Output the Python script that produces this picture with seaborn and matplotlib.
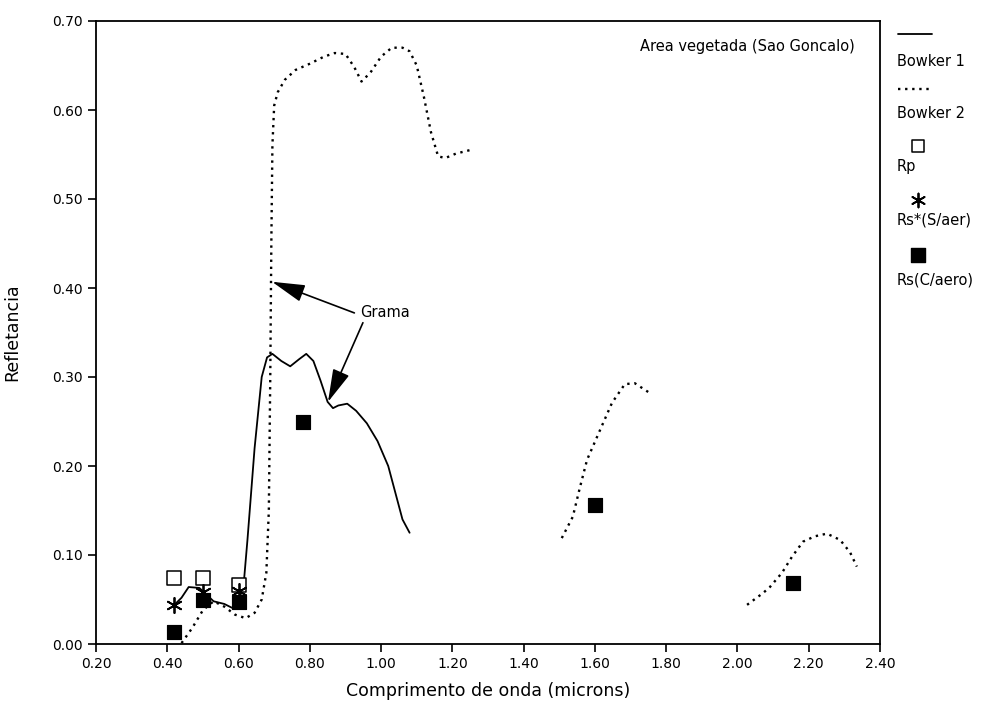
import matplotlib
matplotlib.use("Agg")
import matplotlib.pyplot as plt
import seaborn as sns

# Bowker 1 spectral curve (solid)
bowker1_x = [0.42, 0.44, 0.46, 0.49, 0.53, 0.56, 0.585, 0.60, 0.615, 0.625, 0.645,
             0.665, 0.68, 0.695, 0.72, 0.745, 0.77, 0.79, 0.81, 0.83, 0.85, 0.865,
             0.88, 0.905, 0.93, 0.96, 0.99, 1.02, 1.04, 1.06, 1.08]
bowker1_y = [0.044, 0.052, 0.064, 0.063, 0.048, 0.045, 0.040, 0.046, 0.070, 0.117, 0.220,
             0.300, 0.322, 0.326, 0.318, 0.312, 0.320, 0.326, 0.318, 0.296, 0.272, 0.265,
             0.268, 0.270, 0.262, 0.248, 0.228, 0.200, 0.170, 0.140, 0.125]

# Bowker 2 spectral curve (dotted), three bands
bowker2_vnir_x = [0.44, 0.47, 0.50, 0.53, 0.56, 0.59, 0.62, 0.645, 0.665, 0.678, 0.685,
                  0.689, 0.692, 0.695, 0.70, 0.71, 0.73, 0.76, 0.80, 0.84, 0.87, 0.90,
                  0.925, 0.945, 0.97, 1.00, 1.03, 1.06, 1.08, 1.10, 1.12, 1.14, 1.16,
                  1.18, 1.21, 1.25]
bowker2_vnir_y = [0.001, 0.018, 0.038, 0.048, 0.042, 0.033, 0.029, 0.035, 0.050, 0.080, 0.150,
                  0.300, 0.450, 0.560, 0.605, 0.620, 0.634, 0.645, 0.652, 0.660, 0.664, 0.663,
                  0.648, 0.632, 0.642, 0.660, 0.670, 0.670, 0.666, 0.650, 0.615, 0.575, 0.548,
                  0.546, 0.551, 0.555]
bowker2_swir1_x = [1.507, 1.538, 1.558, 1.578, 1.614, 1.648, 1.684, 1.712, 1.754]
bowker2_swir1_y = [0.119, 0.143, 0.176, 0.207, 0.240, 0.271, 0.292, 0.293, 0.282]
bowker2_swir2_x = [2.027, 2.071, 2.091, 2.125, 2.153, 2.184, 2.217, 2.251, 2.288, 2.316, 2.335]
bowker2_swir2_y = [0.044, 0.057, 0.064, 0.080, 0.098, 0.115, 0.121, 0.124, 0.117, 0.103, 0.087]

# Measured reflectances
rp_x = [0.42, 0.50, 0.60]
rp_y = [0.074, 0.074, 0.066]
rs_noaer_x = [0.42, 0.50, 0.60]
rs_noaer_y = [0.044, 0.058, 0.060]
rs_aer_x = [0.42, 0.50, 0.60, 0.78, 1.60, 2.155]
rs_aer_y = [0.013, 0.050, 0.047, 0.249, 0.156, 0.069]

x_ticks = [0.20, 0.40, 0.60, 0.80, 1.00, 1.20, 1.40, 1.60, 1.80, 2.00, 2.20, 2.40]
y_ticks = [0.00, 0.10, 0.20, 0.30, 0.40, 0.50, 0.60, 0.70]

sns.set_theme(style="ticks")
plt.rcParams["font.family"] = ["DejaVu Sans"]
plt.rcParams["text.color"] = "black"
plt.rcParams["axes.labelcolor"] = "black"
plt.rcParams["xtick.color"] = "black"
plt.rcParams["ytick.color"] = "black"

W, H = 991, 706
fig = plt.figure(figsize=(W / 100, H / 100), dpi=100)
fig.patch.set_facecolor("white")
ax = fig.add_axes([96 / W, 1 - 644 / H, (880 - 96) / W, (644 - 21) / H])

dotted = (0, (1.0, 2.0))

sns.lineplot(x=bowker1_x, y=bowker1_y, ax=ax, color="black", linewidth=1.3,
             estimator=None, sort=False)
for xs, ys in [(bowker2_vnir_x, bowker2_vnir_y),
               (bowker2_swir1_x, bowker2_swir1_y),
               (bowker2_swir2_x, bowker2_swir2_y)]:
    sns.lineplot(x=xs, y=ys, ax=ax, color="black", linewidth=1.7,
                 linestyle=dotted, estimator=None, sort=False)

sns.scatterplot(x=rp_x, y=rp_y, ax=ax, marker="s", s=110, facecolor="white",
                edgecolor="black", linewidth=1.1, zorder=4)
sns.scatterplot(x=rs_noaer_x, y=rs_noaer_y, ax=ax, marker=(6, 2, 0), s=120,
                color="black", linewidth=1.3, zorder=4)
sns.scatterplot(x=rs_aer_x, y=rs_aer_y, ax=ax, marker="s", s=110, color="black",
                edgecolor="black", zorder=5)

ax.set_xlim(0.2, 2.4)
ax.set_ylim(0.0, 0.7)
ax.set_xticks(x_ticks)
ax.set_yticks(y_ticks)
ax.set_xticklabels([f"{t:.2f}" for t in x_ticks])
ax.set_yticklabels([f"{t:.2f}" for t in y_ticks])
ax.tick_params(direction="out", length=6, width=1.2, labelsize=10, colors="black")
for s in ax.spines.values():
    s.set_linewidth(1.3)
    s.set_color("black")

ax.set_xlabel("Comprimento de onda (microns)", fontsize=12.5, labelpad=8)
ax.set_ylabel("Refletancia", fontsize=12.5, labelpad=22)

ax.text(2.33, 0.671, "Area vegetada (Sao Goncalo)", ha="right", va="center", fontsize=10.5)

# "Grama" annotation with two arrows
ax.text(0.941, 0.373, "Grama", ha="left", va="center", fontsize=10.5)
arrow = dict(arrowstyle="-|>,head_length=1.7,head_width=0.45", color="black", lw=1.2,
             shrinkA=0, shrinkB=0)
ax.annotate("", xy=(0.694, 0.407), xytext=(0.925, 0.372), arrowprops=arrow)
ax.annotate("", xy=(0.851, 0.272), xytext=(0.949, 0.361), arrowprops=arrow)

# Legend column on the right: handle above each label
leg = fig.add_axes([0, 0, 1, 1])
leg.set_xlim(0, W)
leg.set_ylim(H, 0)
leg.axis("off")
leg.patch.set_alpha(0)
leg.plot([898, 932], [34, 34], color="black", lw=1.3)
leg.plot([898, 932], [89, 89], color="black", lw=1.7, linestyle=dotted)
leg.scatter([918], [146], marker="s", s=80, facecolor="white", edgecolor="black", linewidth=1.1)
leg.scatter([918], [200], marker=(6, 2, 0), s=100, color="black", linewidth=1.3)
leg.scatter([918], [255], marker="s", s=90, color="black")
for y, lab in [(61, "Bowker 1"), (114, "Bowker 2"), (167, "Rp"),
               (220, "Rs*(S/aer)"), (280, "Rs(C/aero)")]:
    leg.text(897, y, lab, ha="left", va="center", fontsize=10.5)

fig.savefig("out.png", dpi=100, facecolor="white")
